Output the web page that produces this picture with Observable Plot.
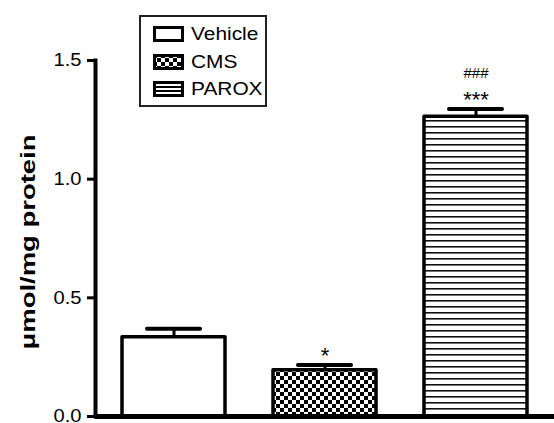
<!DOCTYPE html>
<html>
<head>
<meta charset="utf-8">
<script src="https://cdn.jsdelivr.net/npm/d3@7"></script>
<script src="https://cdn.jsdelivr.net/npm/@observablehq/plot@0.6"></script>
<style>
  html, body { margin: 0; padding: 0; background: #fff; }
  #wrap { position: relative; width: 554px; height: 423px; font-family: "Liberation Sans", Arial, sans-serif; }
  #legend { position: absolute; left: 139px; top: 15px; width: 128px; height: 92px; border: 2px solid #222; background: #fff; box-sizing: border-box; }
  .item { position: absolute; left: 12px; height: 16px; display: flex; align-items: center; }
  .sw { width: 25px; height: 10px; border: 3px solid #000; background: #fff; flex: none; }
  .lab { margin-left: 7px; font-size: 18px; color: #000; line-height: 16px; display: inline-block; transform: scaleX(1.16); transform-origin: left center; }
</style>
</head>
<body>
<div id="wrap"></div>
<script>
const groups = ["Vehicle", "CMS", "PAROX"];
const means = [0.334, 0.195, 1.263];
const sems = [0.036, 0.022, 0.033];
const stars = ["", "*", "***"];
const hashes = ["", "", "###"];
const yTicks = [0, 0.5, 1.0, 1.5];
const yLabel = "μmol/mg protein";
const fills = ["#ffffff", "url(#checker)", "url(#stripes)"];

const data = groups.map((g, i) => ({group: g, mean: means[i], sem: sems[i], top: means[i] + sems[i], star: stars[i], hash: hashes[i]}));

const svg = Plot.plot({
  width: 554,
  height: 423,
  marginLeft: 95,
  marginRight: 0,
  marginTop: 60,
  marginBottom: 7,
  style: {fontFamily: "Liberation Sans, Arial, sans-serif", background: "#fff", color: "#000"},
  x: {domain: groups, paddingInner: 0.32, paddingOuter: 0.17, axis: null},
  y: {domain: [0, 1.5], axis: null},
  color: {type: "ordinal", domain: groups, range: fills},
  marks: [
    Plot.axisY({ticks: yTicks, tickFormat: d3.format(".1f"), tickSize: 8, tickPadding: 6, strokeWidth: 3, fontSize: 18, label: null}),
    Plot.text([yLabel], {frameAnchor: "left", dx: -67, dy: 111, rotate: -90, textAnchor: "start", fontSize: 21, fontWeight: "bold", text: d => d}),
    Plot.ruleX(data, {x: "group", y1: "mean", y2: "top", stroke: "#000", strokeWidth: 3}),
    Plot.barY(data, {x: "group", y: "mean", fill: "group", stroke: "#000", strokeWidth: 3.5, strokeLinejoin: "round"}),
    Plot.tickY(data, {x: "group", y: "top", stroke: "#000", strokeWidth: 4, strokeLinecap: "round", insetLeft: 25, insetRight: 25}),
    Plot.text(data, {x: "group", y: "top", text: "star", lineAnchor: "bottom", dy: -2, fontSize: 22}),
    Plot.text(data, {x: "group", y: "top", text: "hash", lineAnchor: "bottom", dy: -31, fontSize: 15}),
    Plot.ruleY([0], {stroke: "#000", strokeWidth: 5}),
    Plot.frame({anchor: "left", stroke: "#000", strokeWidth: 4})
  ]
});

svg.insertAdjacentHTML("afterbegin",
  '<defs>' +
  '<pattern id="checker" width="8" height="8" patternUnits="userSpaceOnUse"><rect width="8" height="8" fill="#fff"/><rect width="4" height="4" fill="#000"/><rect x="4" y="4" width="4" height="4" fill="#000"/></pattern>' +
  '<pattern id="stripes" width="8" height="6" patternUnits="userSpaceOnUse"><rect width="8" height="6" fill="#fff"/><rect y="0" width="8" height="1.6" fill="#111"/></pattern>' +
  '</defs>');

// stretch texts to the widths seen in the reference
d3.select(svg).selectAll("text").each(function() {
  const t = this.textContent;
  if (t === yLabel) { this.setAttribute("textLength", 215); this.setAttribute("lengthAdjust", "spacingAndGlyphs"); }
  else if (/^\d\.\d$/.test(t)) { this.setAttribute("textLength", 28); this.setAttribute("lengthAdjust", "spacingAndGlyphs"); }
});

const wrap = document.getElementById("wrap");
wrap.appendChild(svg);

const legend = document.createElement("div");
legend.id = "legend";
const swStyles = [
  "background:#fff",
  "background-color:#000; background-image: conic-gradient(#fff 25%, #000 0 50%, #fff 0 75%, #000 0); background-size: 8px 8px; background-position: 1px 1px",
  "background: repeating-linear-gradient(#fff 0 2px, #000 2px 4px)"
];
groups.forEach((g, i) => {
  const it = document.createElement("div");
  it.className = "item";
  it.style.top = (9 + i * 27.5) + "px";
  const sw = document.createElement("span");
  sw.className = "sw";
  sw.setAttribute("style", swStyles[i]);
  const lab = document.createElement("span");
  lab.className = "lab";
  lab.textContent = g;
  it.appendChild(sw);
  it.appendChild(lab);
  legend.appendChild(it);
});
wrap.appendChild(legend);
</script>
</body>
</html>
